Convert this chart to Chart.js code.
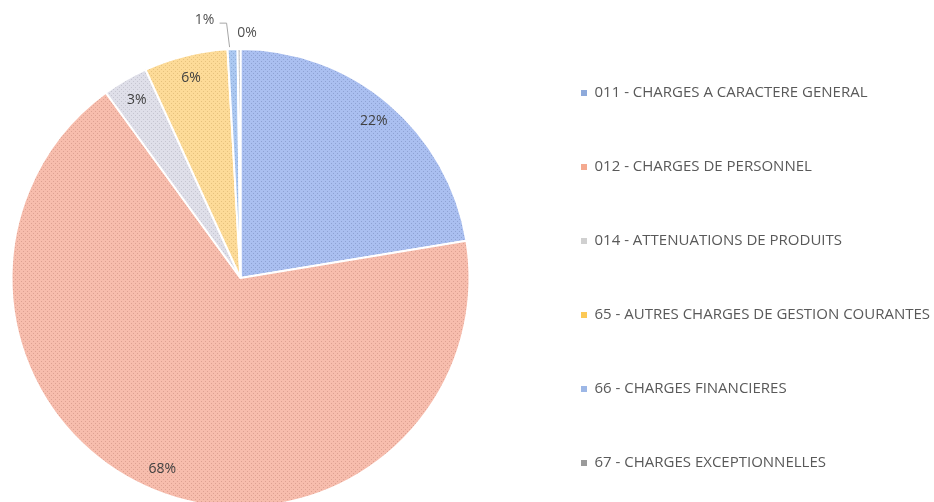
<!DOCTYPE html>
<html lang="fr">
<head>
<meta charset="utf-8">
<script src="https://cdn.jsdelivr.net/npm/chart.js@4.4.1/dist/chart.umd.min.js"></script>
<style>
  html, body { margin: 0; padding: 0; background: #fff; overflow: hidden; }
  #wrap { position: relative; margin-left: -41px; width: 975px; height: 556px; }
</style>
</head>
<body>
<div id="wrap"><canvas id="chart"></canvas></div>
<script>
// data (share of expenses, %)
const categories = [
  '011 - CHARGES A CARACTERE GENERAL',
  '012 - CHARGES DE PERSONNEL',
  '014 - ATTENUATIONS DE PRODUITS',
  '65 - AUTRES CHARGES DE GESTION COURANTES',
  '66 - CHARGES FINANCIERES',
  '67 - CHARGES EXCEPTIONNELLES'
];
const shares = [22.4, 67.6, 3.2, 5.9, 0.7, 0.2];

const sliceColors = ['#aabff0', '#f7bdad', '#dfdfe9', '#fddb98', '#abc8f1', '#a8a8a8'];
const hatchColors = ['#8ea2d3', '#dda192', '#c5c5d0', '#e6c27d', '#8fadd8', '#8c8c8c'];
const legendColors = ['#8eaadb', '#f4a98f', '#d0d0d0', '#fcc956', '#9db7e6', '#9a9a9a'];

// small dotted diagonal texture, like the printed chart
function makePattern(base, dark) {
  const c = document.createElement('canvas');
  c.width = 4; c.height = 4;
  const g = c.getContext('2d');
  g.fillStyle = base;
  g.fillRect(0, 0, 4, 4);
  g.fillStyle = dark;
  for (let i = 0; i < 4; i += 2) {
    g.fillRect(i, 3 - i, 1, 1);
  }
  return g.createPattern(c, 'repeat');
}
const patterns = sliceColors.map((c, i) => makePattern(c, hatchColors[i]));

// percent labels, inside for big slices, outside with a leader for tiny ones
const pctLabels = {
  id: 'pctLabels',
  afterDatasetsDraw(chart, args, opts) {
    const ctx = chart.ctx;
    const meta = chart.getDatasetMeta(0);
    const total = shares.reduce((a, b) => a + b, 0);
    ctx.save();
    ctx.font = '14px "Open Sans", sans-serif';
    ctx.textAlign = 'center';
    ctx.textBaseline = 'middle';
    meta.data.forEach((arc, i) => {
      const p = arc.getProps(['x', 'y', 'startAngle', 'endAngle', 'outerRadius'], true);
      const mid = (p.startAngle + p.endAngle) / 2;
      const text = Math.round(shares[i] / total * 100) + '%';
      const out = opts.outside[i];
      if (!out) {
        const r = p.outerRadius * 0.9;
        ctx.fillStyle = '#404040';
        ctx.fillText(text, p.x + Math.cos(mid) * r, p.y + Math.sin(mid) * r);
        return;
      }
      const ax = p.x + Math.cos(mid) * p.outerRadius;
      const ay = p.y + Math.sin(mid) * p.outerRadius;
      if (out.leader) {
        ctx.strokeStyle = '#a6a6a6';
        ctx.lineWidth = 1;
        ctx.beginPath();
        ctx.moveTo(ax + out.dx + 15, ay + out.dy + 3);
        ctx.lineTo(ax - 6, ay + out.dy + 3);
        ctx.lineTo(ax - 3, ay - 2);
        ctx.stroke();
      }
      ctx.fillStyle = '#505050';
      ctx.fillText(text, ax + out.dx, ay + out.dy);
    });
    ctx.restore();
  }
};

new Chart(document.getElementById('chart'), {
  type: 'pie',
  data: {
    labels: categories,
    datasets: [{
      data: shares,
      backgroundColor: patterns,
      borderColor: '#ffffff',
      borderWidth: 2,
      radius: 229
    }]
  },
  options: {
    responsive: true,
    maintainAspectRatio: false,
    animation: false,
    layout: { padding: 0 },
    plugins: {
      tooltip: { enabled: false },
      legend: {
        position: 'right',
        maxWidth: 412,
        labels: {
          boxWidth: 6,
          boxHeight: 6,
          padding: 59,
          color: '#595959',
          font: { family: '"Open Sans", sans-serif', size: 15 },
          generateLabels: (chart) => categories.map((name, i) => ({
            text: name,
            fillStyle: legendColors[i],
            strokeStyle: legendColors[i],
            lineWidth: 0,
            fontColor: '#595959',
            hidden: false,
            index: i
          }))
        }
      },
      pctLabels: {
        outside: { 4: { dx: -28, dy: -29, leader: true }, 5: { dx: 8, dy: -16 } }
      }
    }
  },
  plugins: [pctLabels]
});
</script>
</body>
</html>
